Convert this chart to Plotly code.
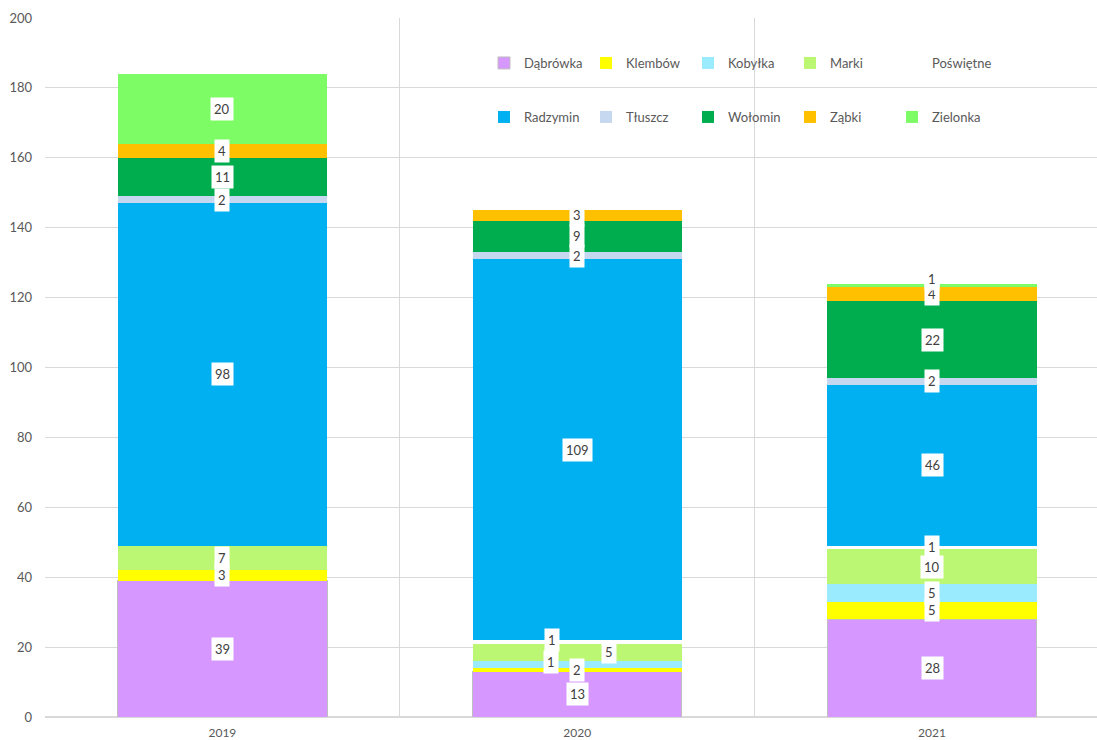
import plotly.graph_objects as go

years = ["2019", "2020", "2021"]
series_names = ["Dąbrówka", "Klembów", "Kobyłka", "Marki", "Poświętne",
                "Radzymin", "Tłuszcz", "Wołomin", "Ząbki", "Zielonka"]

dabrowka = [39, 13, 28]
klembow = [3, 1, 5]
kobylka = [None, 2, 5]
marki = [7, 5, 10]
poswietne = [None, 1, 1]
radzymin = [98, 109, 46]
tluszcz = [2, 2, 2]
wolomin = [11, 9, 22]
zabki = [4, 3, 4]
zielonka = [20, None, 1]

values = [dabrowka, klembow, kobylka, marki, poswietne,
          radzymin, tluszcz, wolomin, zabki, zielonka]

colors = ["#D698FE", "#FFFF00", "#9BEBFE", "#BCF774", "#FFFFFF",
          "#00B0F0", "#C5D8F0", "#00AD4E", "#FFC000", "#7DFC66"]

y_ticks = list(range(0, 201, 20))

# label offsets (px) to mimic overlap avoidance: (series index, year index) -> (dx, dy)
label_offsets = {(1, 1): (-26, 8), (2, 1): (0, -5), (3, 1): (32, 0),
                 (4, 1): (-25, 2), (9, 2): (0, 6)}

FONT = "Lato, 'Open Sans', sans-serif"
fig = go.Figure()

for i, (name, vals, col) in enumerate(zip(series_names, values, colors)):
    line = dict(width=1, color="#BFBFBF") if i == 0 else dict(width=0)
    fig.add_trace(go.Bar(
        x=years, y=vals, name=name,
        marker=dict(color=col, line=line),
        legend="legend" if i < 5 else "legend2",
        hoverinfo="x+y+name",
    ))

annotations = []
for j, yr in enumerate(years):
    base = 0
    for i, vals in enumerate(values):
        v = vals[j]
        if v is None:
            continue
        dx, dy = label_offsets.get((i, j), (0, 0))
        annotations.append(dict(
            x=j, y=base + v / 2, xref="x", yref="y", text=str(v),
            showarrow=False, bgcolor="white", borderpad=3,
            font=dict(family=FONT, size=13, color="#404040"),
            xshift=dx, yshift=dy,
        ))
        base += v

legend_common = dict(orientation="h", x=(484 - 45) / 1052, xanchor="left",
                     yanchor="middle", traceorder="normal",
                     bgcolor="rgba(0,0,0,0)", entrywidth=57, entrywidthmode="pixels",
                     font=dict(family=FONT, size=13, color="#595959"), itemclick=False)

fig.update_layout(
    width=1097, height=740,
    margin=dict(l=45, r=0, t=18, b=23),
    paper_bgcolor="white", plot_bgcolor="white",
    barmode="stack", bargap=0.41,
    font=dict(family=FONT, size=13, color="#595959"),
    annotations=annotations,
    shapes=[dict(type="rect", xref="paper", yref="paper",
                 x0=(485 - 45) / 1052, x1=(1035 - 45) / 1052,
                 y0=(717 - 145) / 699, y1=(717 - 38) / 699,
                 fillcolor="white", line=dict(width=0), layer="between")],
    legend=dict(legend_common, y=(717 - 63) / 699),
    legend2=dict(legend_common, y=(717 - 117) / 699),
    xaxis=dict(type="category", range=[-0.5, 2.465], tickson="boundaries", showgrid=True,
               gridcolor="#D9D9D9", ticks="", showline=True, linecolor="#D9D9D9",
               automargin=False, ticklabelstandoff=5,
               tickfont=dict(size=12, color="#595959"), fixedrange=True),
    yaxis=dict(range=[0, 200], tickvals=y_ticks, showgrid=True, gridcolor="#D9D9D9",
               zeroline=True, zerolinecolor="#D9D9D9", ticks="", automargin=False,
               ticklabelstandoff=12, tickfont=dict(size=13, color="#595959"),
               fixedrange=True),
)

fig.write_html("out.html", config={"displayModeBar": False},
               post_script="document.body.style.margin='0';document.body.style.overflow='hidden';")
